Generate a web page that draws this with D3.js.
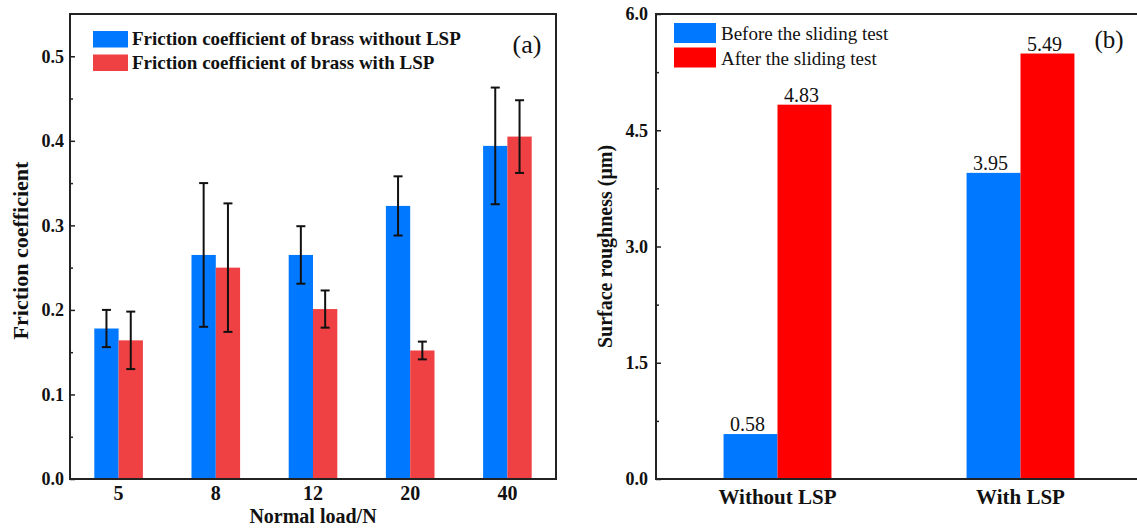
<!DOCTYPE html>
<html>
<head>
<meta charset="utf-8">
<script src="https://cdn.jsdelivr.net/npm/d3@7"></script>
<style>
  body { margin: 0; background: #fff; }
  svg { display: block; }
  svg text { font-family: "Liberation Serif", "Times New Roman", serif; }
</style>
</head>
<body>
<svg id="chart" width="1137" height="528"></svg>
<script>
// panel (a) data
var loads = ['5', '8', '12', '20', '40'];
var frictionWithout = [0.178, 0.265, 0.265, 0.323, 0.394];
var errWithout = [0.022, 0.085, 0.034, 0.035, 0.069];
var frictionWith = [0.164, 0.250, 0.201, 0.152, 0.405];
var errWith = [0.034, 0.076, 0.022, 0.0105, 0.043];
var yTicksA = [0, 0.1, 0.2, 0.3, 0.4, 0.5];
var legendA = ['Friction coefficient of brass without LSP', 'Friction coefficient of brass with LSP'];

// panel (b) data
var treatments = ['Without LSP', 'With LSP'];
var roughBefore = [0.58, 3.95];
var roughAfter = [4.83, 5.49];
var yTicksB = [0, 1.5, 3.0, 4.5, 6.0];
var legendB = ['Before the sliding test', 'After the sliding test'];

var blue = '#0078ff', redA = '#ef4043', redB = '#ff0000';
var svg = d3.select('#chart');

function cleanAxis(g) {
  g.attr('font-family', null).attr('font-size', null);
  g.select('.domain').remove();
}

// ---------- panel (a) ----------
var a = {left: 70, right: 556, top: 14, bottom: 479};
var xA = d3.scaleBand().domain(loads).range([a.left, a.right]).paddingInner(0.5).paddingOuter(0.25);
var subA = d3.scaleBand().domain([0, 1]).range([0, xA.bandwidth()]);
var yA = d3.scaleLinear().domain([0, 0.55]).range([a.bottom, a.top]);

var seriesA = [
  {vals: frictionWithout, err: errWithout, color: blue},
  {vals: frictionWith, err: errWith, color: redA}
];

seriesA.forEach(function(s, si) {
  var g = svg.append('g');
  g.selectAll('rect').data(s.vals).enter().append('rect')
    .attr('x', function(d, i) { return xA(loads[i]) + subA(si); })
    .attr('y', function(d) { return yA(d); })
    .attr('width', subA.bandwidth())
    .attr('height', function(d) { return yA(0) - yA(d); })
    .style('fill', s.color);
  // error bars
  s.vals.forEach(function(d, i) {
    var cx = xA(loads[i]) + subA(si) + subA.bandwidth() / 2;
    var e = g.append('g').style('stroke', '#111').style('stroke-width', 2);
    e.append('line').attr('x1', cx).attr('x2', cx).attr('y1', yA(d + s.err[i])).attr('y2', yA(d - s.err[i]));
    e.append('line').attr('x1', cx - 4.5).attr('x2', cx + 4.5).attr('y1', yA(d + s.err[i])).attr('y2', yA(d + s.err[i]));
    e.append('line').attr('x1', cx - 4.5).attr('x2', cx + 4.5).attr('y1', yA(d - s.err[i])).attr('y2', yA(d - s.err[i]));
  });
});

svg.append('g')
    .attr('transform', 'translate(' + a.left + ',0)')
    .call(d3.axisLeft(yA).tickValues(d3.range(0.05, 0.55, 0.1)).tickSize(-3).tickFormat(''))
    .call(cleanAxis);
svg.append('g')
    .attr('transform', 'translate(' + a.left + ',0)')
    .call(d3.axisLeft(yA).tickValues(yTicksA).tickSize(-5).tickPadding(6).tickFormat(d3.format('.1f')))
    .call(cleanAxis)
    .selectAll('text').style('font-size', '18px').style('font-weight', 'bold').style('fill', '#111');
svg.selectAll('.tick line').style('stroke', '#222').style('stroke-width', 1.5);

svg.append('g')
    .attr('transform', 'translate(0,' + a.bottom + ')')
    .call(d3.axisBottom(xA).tickSize(0).tickPadding(7))
    .call(cleanAxis)
    .selectAll('text').style('font-size', '20px').style('font-weight', 'bold').style('fill', '#111');

svg.append('rect')
    .attr('x', a.left).attr('y', a.top)
    .attr('width', a.right - a.left).attr('height', a.bottom - a.top)
    .style('fill', 'none').style('stroke', '#222').style('stroke-width', 2);

svg.append('text')
    .attr('transform', 'translate(28,' + ((a.top + a.bottom) / 2 + 4) + ') rotate(-90)')
    .attr('text-anchor', 'middle')
    .style('font-size', '22px').style('font-weight', 'bold').style('fill', '#111')
    .text('Friction coefficient');
svg.append('text')
    .attr('x', (a.left + a.right) / 2).attr('y', 523)
    .attr('text-anchor', 'middle')
    .style('font-size', '20px').style('font-weight', 'bold').style('fill', '#111')
    .text('Normal load/N');

var legA = svg.append('g');
[blue, redA].forEach(function(c, i) {
  legA.append('rect').attr('x', 93).attr('y', 31 + i * 23.5).attr('width', 35).attr('height', 16.5).style('fill', c);
  legA.append('text').attr('x', 132).attr('y', 45 + i * 23.5)
    .style('font-size', '19px').style('font-weight', 'bold').style('fill', '#111')
    .text(legendA[i]);
});
svg.append('text').attr('x', 527).attr('y', 53).attr('text-anchor', 'middle')
  .style('font-size', '26px').style('fill', '#111').text('(a)');

// ---------- panel (b) ----------
var b = {left: 656, right: 1142, top: 14, bottom: 479};
var xB = d3.scaleBand().domain(treatments).range([b.left, b.right]).paddingInner(0.556).paddingOuter(0.278);
var subB = d3.scaleBand().domain([0, 1]).range([0, xB.bandwidth()]);
var yB = d3.scaleLinear().domain([0, 6]).range([b.bottom, b.top]);

var seriesB = [
  {vals: roughBefore, color: blue},
  {vals: roughAfter, color: redB}
];
seriesB.forEach(function(s, si) {
  var g = svg.append('g');
  g.selectAll('rect').data(s.vals).enter().append('rect')
    .attr('x', function(d, i) { return xB(treatments[i]) + subB(si); })
    .attr('y', function(d) { return yB(d); })
    .attr('width', subB.bandwidth())
    .attr('height', function(d) { return yB(0) - yB(d); })
    .style('fill', s.color);
  g.selectAll('text').data(s.vals).enter().append('text')
    .attr('x', function(d, i) { return xB(treatments[i]) + subB(si) + subB.bandwidth() / 2 - 3; })
    .attr('y', function(d) { return yB(d) - 3; })
    .attr('text-anchor', 'middle')
    .style('font-size', '20px').style('fill', '#111')
    .text(function(d) { return d3.format('.2f')(d); });
});

var axB = svg.append('g').attr('class', 'axb');
axB.append('g')
    .attr('transform', 'translate(' + b.left + ',0)')
    .call(d3.axisLeft(yB).tickValues(d3.range(0.75, 6, 1.5)).tickSize(-3).tickFormat(''))
    .call(cleanAxis);
axB.append('g')
    .attr('transform', 'translate(' + b.left + ',0)')
    .call(d3.axisLeft(yB).tickValues(yTicksB).tickSize(-5).tickPadding(8).tickFormat(d3.format('.1f')))
    .call(cleanAxis)
    .selectAll('text').style('font-size', '18px').style('font-weight', 'bold').style('fill', '#111');
axB.selectAll('.tick line').style('stroke', '#222').style('stroke-width', 1.5);

svg.append('g')
    .attr('transform', 'translate(0,' + b.bottom + ')')
    .call(d3.axisBottom(xB).tickSize(0).tickPadding(10))
    .call(cleanAxis)
    .selectAll('text').style('font-size', '21px').style('font-weight', 'bold').style('fill', '#111');

svg.append('rect')
    .attr('x', b.left).attr('y', b.top)
    .attr('width', b.right - b.left).attr('height', b.bottom - b.top)
    .style('fill', 'none').style('stroke', '#222').style('stroke-width', 2);

svg.append('text')
    .attr('transform', 'translate(612,' + ((b.top + b.bottom) / 2) + ') rotate(-90)')
    .attr('text-anchor', 'middle')
    .style('font-size', '20px').style('font-weight', 'bold').style('fill', '#111')
    .text('Surface roughness (μm)');

var legB = svg.append('g');
[blue, redB].forEach(function(c, i) {
  legB.append('rect').attr('x', 674).attr('y', 23 + i * 24.5).attr('width', 42).attr('height', 20).style('fill', c);
  legB.append('text').attr('x', 721).attr('y', 40 + i * 24.5)
    .style('font-size', '19px').style('fill', '#111')
    .text(legendB[i]);
});
svg.append('text').attr('x', 1109).attr('y', 48).attr('text-anchor', 'middle')
  .style('font-size', '25px').style('fill', '#111').text('(b)');
</script>
</body>
</html>
